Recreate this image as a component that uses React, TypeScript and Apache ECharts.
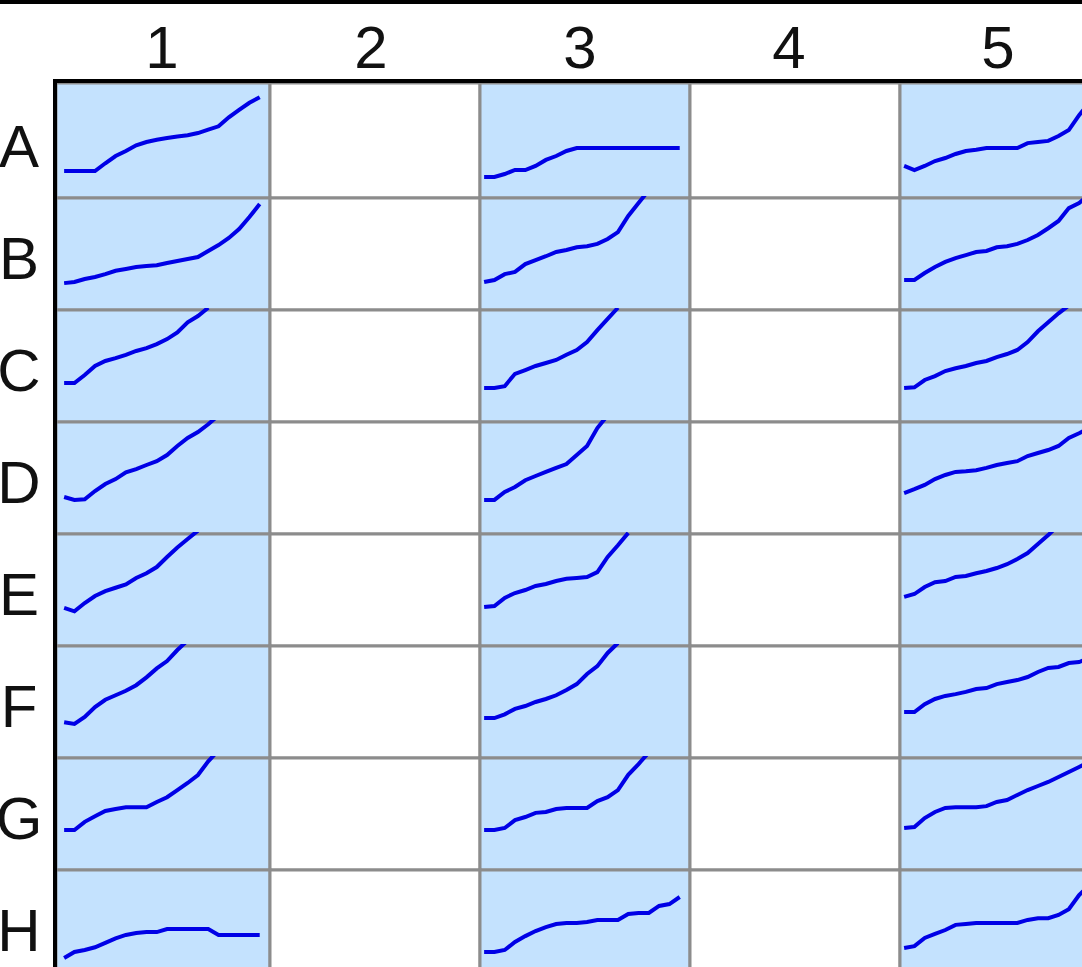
import React, { useEffect, useRef } from 'react';
import * as echarts from 'echarts';

const ROW_LABELS = ['A', 'B', 'C', 'D', 'E', 'F', 'G', 'H'];
const COL_LABELS = ['1', '2', '3', '4', '5'];
const FILLED_COLS = ['1', '3', '5'];

// Well curves: values as % of well height, one reading per time step
const A1 = [24, 24, 24, 24, 31, 37.5, 42, 47, 50, 52, 53.6, 55, 56, 58, 61, 64, 72, 78.6, 85, 90];
const B1 = [24, 25, 27.7, 29.5, 32, 35, 36.6, 38.4, 39.3, 40, 42, 43.8, 45.5, 47.3, 52.7, 58, 64.3, 72.3, 83, 94.6];
const C1 = [34.8, 34.8, 42, 50, 54.5, 57, 60, 63.4, 66, 69.6, 74, 80, 89, 94.6, 102];
const D1 = [33, 30.4, 31, 38.4, 44.6, 49, 55, 58, 61.6, 65, 70.5, 78.6, 85.7, 91, 98, 106];
const E1 = [34, 31, 38.4, 44.6, 49, 52, 55, 60.7, 65, 70.5, 79.5, 88, 95.5, 103];
const F1 = [32, 30.4, 36.6, 45.5, 52, 56, 60, 65, 72, 80, 86.6, 96.4, 105];
const G1 = [35.7, 35.7, 43, 48, 52.7, 54.5, 56, 56, 56, 60.7, 65, 71.4, 77.7, 84.8, 97, 107];
const H1 = [21.4, 26.8, 28.6, 31, 35, 39, 42, 43.8, 44.6, 44.6, 47.3, 47.3, 47.3, 47.3, 47.3, 42, 42, 42, 42, 42];

const A3 = [18.75, 18.75, 21.4, 25, 25, 28.6, 34, 37.5, 42, 44.6, 44.6, 44.6, 44.6, 44.6, 44.6, 44.6, 44.6, 44.6, 44.6, 44.6];
const B3 = [25, 26.8, 32, 34, 41, 44.6, 48, 51.8, 53.6, 56, 57, 59, 63.4, 69.6, 84, 95.5, 107];
const C3 = [30.4, 30.4, 32, 43, 46.4, 50, 52.7, 55.4, 60, 64.3, 71.4, 82, 92, 102];
const D3 = [30.4, 30.4, 37.5, 42, 48, 51.8, 55.4, 59, 62.5, 70.5, 78.6, 94.6, 106];
const E3 = [34.8, 35.7, 43, 47.3, 50, 53.6, 55.4, 58, 60, 60.7, 61.6, 66, 79.5, 90, 101];
const F3 = [35.7, 35.7, 39, 43.8, 46.4, 50, 52.7, 56, 60.7, 66, 75, 82, 93.8, 102.7];
const G3 = [35.7, 35.7, 37.5, 44.6, 47.3, 51, 51.8, 54.5, 55.4, 55.4, 55.4, 61.6, 65, 71.4, 85, 94.6, 105];
const H3 = [26.8, 26.8, 28.6, 35.7, 41, 45.5, 49, 51.8, 52.7, 52.7, 53.6, 55.4, 55.4, 55.4, 60.7, 61.6, 61.6, 67.9, 69.6, 75.9];

const A5 = [28.6, 25, 28.6, 33, 35.7, 39.3, 42, 43, 44.6, 44.6, 44.6, 44.6, 49, 50, 51, 55.4, 60.7, 74, 85];
const B5 = [26.8, 26.8, 33, 38.4, 42.9, 46.4, 49, 51.8, 52.7, 56, 57, 59, 62.5, 67, 73, 79.5, 91, 95.5, 103];
const C5 = [30.4, 31, 37.5, 41, 45.5, 48, 50, 52.7, 54.5, 58, 60.7, 64.3, 71.4, 81, 89, 97, 104];
const D5 = [36.6, 40, 43.8, 49, 52.7, 55.4, 56, 57, 59, 61.6, 63.4, 65, 69.6, 72.3, 75, 78.6, 85.7, 90, 94.6];
const E5 = [43.8, 46.4, 52.7, 57, 58, 61.6, 62.5, 65, 67, 69.6, 73, 77.7, 83, 91, 99, 108];
const F5 = [41, 41, 48, 52.7, 55.4, 57, 59, 61.6, 62.5, 66, 67.9, 69.6, 72.3, 76.8, 80.4, 81.3, 84.8, 85.7, 89];
const G5 = [37.5, 38.4, 46.4, 51.8, 55.4, 56, 56, 56, 57, 60.7, 62.5, 67, 71.4, 75, 78.6, 83, 87.5, 92, 96.4];
const H5 = [30.4, 32, 39.3, 42.9, 46.4, 51, 51.8, 52.7, 52.7, 52.7, 52.7, 52.7, 55.4, 57, 57, 59.8, 65, 77.7, 86.6];

const WELLS: Record<string, number[]> = {
  A1, B1, C1, D1, E1, F1, G1, H1,
  A3, B3, C3, D3, E3, F3, G3, H3,
  A5, B5, C5, D5, E5, F5, G5, H5,
};

const FONT = '"Liberation Sans", Arial, sans-serif';

export default function App() {
  const ref = useRef<HTMLDivElement>(null);

  useEffect(() => {
    if (!ref.current) return;
    const chart = echarts.init(ref.current, undefined, { renderer: 'svg' });

    const grids: any[] = [];
    const xAxes: any[] = [];
    const yAxes: any[] = [];
    const series: any[] = [];

    ROW_LABELS.forEach((row, r) => {
      COL_LABELS.forEach((col, c) => {
        const idx = grids.length;
        const filled = FILLED_COLS.includes(col);
        const left = c === 0 ? 56 : 60 + 210 * c;
        const width = c === 0 ? 214 : 210;
        const top = r === 0 ? 83 : 86 + 112 * r;
        const height = r === 0 ? 115 : 112;
        grids.push({
          left,
          top,
          width,
          height,
          show: true,
          backgroundColor: filled ? '#c4e2fe' : '#ffffff',
          borderColor: '#8c8c8c',
          borderWidth: 3,
          outerBoundsMode: 'none',
        });
        xAxes.push({
          type: 'value',
          gridIndex: idx,
          min: c === 0 ? -0.79 : -0.4,
          max: 20,
          show: false,
        });
        yAxes.push({
          type: 'value',
          gridIndex: idx,
          min: 0,
          max: r === 0 ? 102.68 : 100,
          show: false,
        });
        const vals = WELLS[row + col];
        if (vals) {
          series.push({
            type: 'line',
            xAxisIndex: idx,
            yAxisIndex: idx,
            data: vals.map((v, i) => [i, v]),
            showSymbol: false,
            symbol: 'none',
            clip: true,
            silent: true,
            lineStyle: { color: '#0000e6', width: 4, join: 'miter' },
          });
        }
      });
    });

    const graphics: any[] = [
      { type: 'rect', shape: { x: 0, y: 0, width: 1082, height: 4 }, style: { fill: '#000' }, z: 100 },
      { type: 'rect', shape: { x: 53, y: 79, width: 1040, height: 4 }, style: { fill: '#000' }, z: 100 },
      { type: 'rect', shape: { x: 53, y: 79, width: 4, height: 900 }, style: { fill: '#000' }, z: 100 },
    ];
    COL_LABELS.forEach((col, c) => {
      graphics.push({
        type: 'text',
        x: 162 + 209 * c,
        y: 47,
        z: 100,
        style: {
          text: col,
          fill: '#111',
          font: `60px ${FONT}`,
          textAlign: 'center',
          textVerticalAlign: 'middle',
        },
      });
    });
    ROW_LABELS.forEach((row, r) => {
      graphics.push({
        type: 'text',
        x: 19,
        y: 146 + 112 * r,
        z: 100,
        style: {
          text: row,
          fill: '#111',
          font: `60px ${FONT}`,
          textAlign: 'center',
          textVerticalAlign: 'middle',
        },
      });
    });

    chart.setOption({
      animation: false,
      backgroundColor: '#ffffff',
      grid: grids,
      xAxis: xAxes,
      yAxis: yAxes,
      series,
      graphic: graphics,
    });

    return () => chart.dispose();
  }, []);

  return (
    <div
      ref={ref}
      style={{ position: 'fixed', left: 0, top: 0, width: 1082, height: 967, background: '#fff' }}
    />
  );
}
